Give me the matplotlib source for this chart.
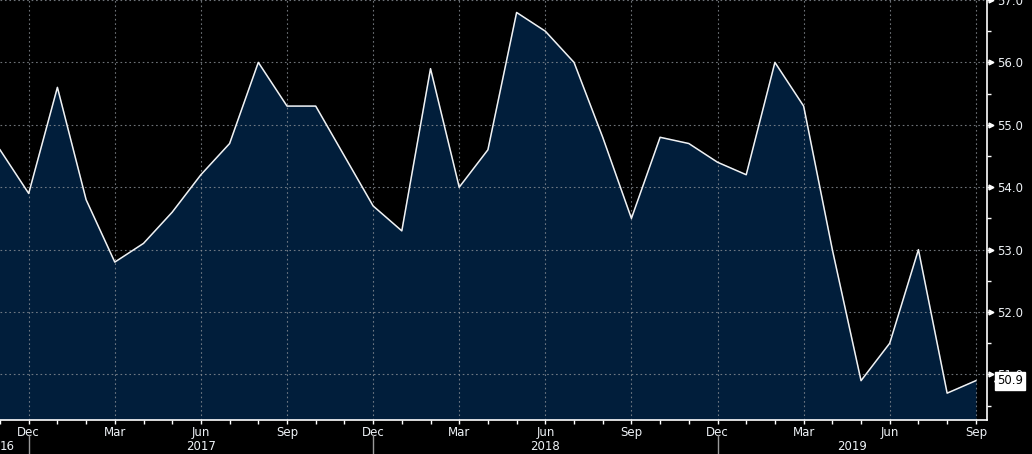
import numpy as np
import pandas as pd
import matplotlib
matplotlib.use("Agg")
import matplotlib.pyplot as plt
import matplotlib.transforms as mtransforms

# Monthly readings, Nov 2016 - Sep 2019
months = pd.period_range("2016-11", "2019-09", freq="M")
values = [54.6, 53.9, 55.6, 53.8, 52.8, 53.1, 53.6, 54.2, 54.7, 56.0,
          55.3, 55.3, 54.5, 53.7, 53.3, 55.9, 54.0, 54.6, 56.8, 56.5,
          56.0, 54.8, 53.5, 54.8, 54.7, 54.4, 54.2, 56.0, 55.3, 53.0,
          50.9, 51.5, 53.0, 50.7, 50.9]
year_labels = ["2017", "2018", "2019"]
year_pos = [7, 19, 29.7]
ytick_vals = [51, 52, 53, 54, 55, 56, 57]

x = np.arange(len(values))
txt = "#eef2f6"
grid_c = "#8a8f96"

fig = plt.figure(figsize=(10.32, 4.54), dpi=100, facecolor="black")
ax = fig.add_axes([0, 0.0749, 0.9567, 0.9251], facecolor="black")

ax.fill_between(x, values, 40, color="#011e3b", zorder=1)
ax.plot(x, values, color="#f2f2f2", lw=1.1, zorder=3)

ax.set_xlim(0.05, 34.4)
ax.set_ylim(50.27, 57.0)

# grid
quarter_idx = [i for i, m in enumerate(months) if m.month in (3, 6, 9, 12)]
for i in quarter_idx:
    ax.axvline(i, color=grid_c, lw=0.8, ls=(0, (1.5, 2.5)), alpha=0.8, zorder=2)
for v in ytick_vals:
    ax.axhline(v, color=grid_c, lw=0.8, ls=(0, (1.5, 2.5)), alpha=0.8, zorder=2)

for s in ["top", "left"]:
    ax.spines[s].set_visible(False)
for s in ["bottom", "right"]:
    ax.spines[s].set_color("white")
    ax.spines[s].set_linewidth(1.2)

# x ticks
ax.set_xticks(x, minor=True)
ax.set_xticks(quarter_idx)
ax.set_xticklabels([months[i].strftime("%b") for i in quarter_idx])
ax.tick_params(axis="x", which="both", colors="white", length=3, width=1,
               labelcolor=txt, labelsize=8.5, pad=1)

# year labels and separators
blend = mtransforms.blended_transform_factory(ax.transData, ax.transAxes)
ax.text(0.0, -0.062, "16", transform=ax.transAxes, color=txt, fontsize=8.5,
        ha="left", va="center")
for lab, p in zip(year_labels, year_pos):
    ax.text(p, -0.062, lab, transform=blend, color=txt, fontsize=8.5,
            ha="center", va="center")
for i, m in enumerate(months):
    if m.month == 12:
        ax.plot([i, i], [-0.036, -0.09], transform=blend, color="#9a9a9a",
                lw=1, clip_on=False)

# y ticks on right
ax.yaxis.tick_right()
ax.set_yticks(ytick_vals)
ax.set_yticklabels([f"{v:.1f}" for v in ytick_vals])
ax.set_yticks(np.arange(50.5, 57.0, 1.0), minor=True)
ax.tick_params(axis="y", which="both", colors="white", length=3, width=1,
               labelcolor=txt, labelsize=8.5, pad=4)
blend_y = mtransforms.blended_transform_factory(ax.transAxes, ax.transData)
ax.plot([1.004] * len(ytick_vals), ytick_vals, ">", color="white", ms=3.5,
        transform=blend_y, clip_on=False, zorder=5)

# last value tag, drawn on the figure so it sits over the 51.0 label
fig.text(1.0, values[-1], f"{values[-1]:.1f}", transform=blend_y
         + mtransforms.ScaledTranslation(7 / 72, 0, fig.dpi_scale_trans),
         ha="left", va="center", color="black", fontsize=8.5,
         bbox=dict(boxstyle="square,pad=0.2", fc="white", ec="white"))
fig.lines.append(plt.Line2D([1.011], [values[-1]], marker="<", color="white",
                            ms=6, transform=blend_y, figure=fig))

fig.savefig("out.png", dpi=100, facecolor="black")
